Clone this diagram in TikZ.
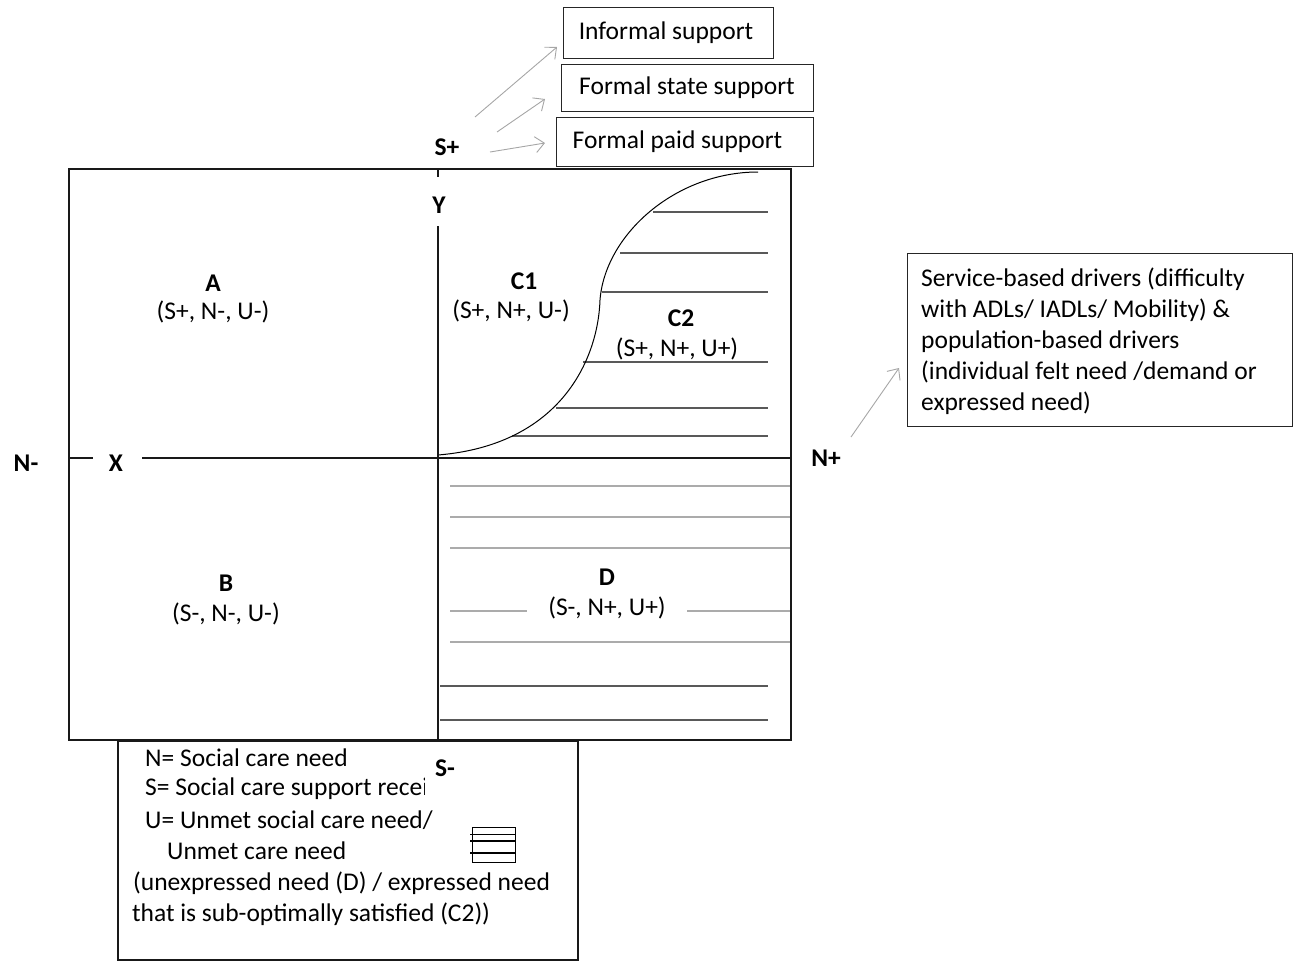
\documentclass[tikz,border=0pt]{standalone}
\usepackage{fontspec}
\setmainfont{Carlito}
\usetikzlibrary{arrows.meta}
\begin{document}
\begin{tikzpicture}[x=1pt,y=-1pt,
  every node/.style={font=\fontsize{25.5}{31}\selectfont, inner sep=0pt},
  lbl/.style={font=\fontsize{25.5}{31}\selectfont\bfseries},
  tbox/.style={draw=black!85, line width=1pt},
  garrow/.style={draw=black!35, line width=0.9pt, -{Straight Barb[length=9pt,width=16pt]}},
  hdark/.style={draw=black!65, line width=1.3pt},
  hlight/.style={draw=black!33, line width=2pt},
  frame/.style={draw=black!90, line width=2pt},
  axis/.style={draw=black!90, line width=1.8pt},
]
\useasboundingbox (0,0) rectangle (1298,962);

% hatch lines C2
\draw[hdark] (653,212) -- (768,212);
\draw[hdark] (620,253) -- (768,253);
\draw[hdark] (602,292) -- (768,292);
\draw[hdark] (583,362) -- (768,362);
\draw[hdark] (556,408) -- (768,408);
\draw[hdark] (512,436) -- (768,436);

% hatch lines D
\draw[hlight] (450,486) -- (791,486);
\draw[hlight] (450,517) -- (791,517);
\draw[hlight] (450,548) -- (791,548);
\draw[hlight] (450,611) -- (527,611);
\draw[hlight] (687,611) -- (791,611);
\draw[hlight] (450,642) -- (791,642);
\draw[hdark] (440,686) -- (768,686);
\draw[hdark] (440,720) -- (768,720);

% curve
\draw[black, line width=1pt] (438,455) .. controls (560,445) and (598,360) .. (600,300)
  .. controls (605,235) and (675,172) .. (758,172);

% frame
\draw[frame] (69,169) rectangle (791,740);

% axes
\draw[axis] (438,169) -- (438,177);
\draw[axis] (438,226) -- (438,740);
\draw[axis] (69,458) -- (93,458);
\draw[axis] (142,458) -- (791,458);

% axis labels
\node[lbl] (splus) at (447,147) {S+};
\node[lbl] (ylab) at (439,205) {Y};
\node[lbl] (nminus) at (26,463) {N-};
\node[lbl] (xlab) at (116,463) {X};
\node[lbl] (nplus) at (826,458) {N+};

% quadrant labels
\node[lbl] (A) at (213,283) {A};
\node (Av) at (213,312) {(S+, N-, U-)};
\node[lbl] (B) at (226,583) {B};
\node (Bv) at (226,614) {(S-, N-, U-)};
\node[lbl] (C1) at (524,281) {C1};
\node (C1v) at (511,311) {(S+, N+, U-)};
\node[lbl] (C2) at (681,318) {C2};
\node (C2v) at (677,349) {(S+, N+, U+)};
\node[lbl] (D) at (607,577) {D};
\node (Dv) at (607,608) {(S-, N+, U+)};

% support boxes
\node[tbox, minimum width=210pt, minimum height=51pt] (inf) at (668,33) {\hspace*{-4pt}Informal support};
\node[tbox, minimum width=252pt, minimum height=47pt] (fstate) at (687,88) {Formal state support};
\node[tbox, minimum width=257pt, minimum height=49pt] (fpaid) at (684.5,141.5) {\hspace*{-14pt}Formal paid support};

\coordinate (s1) at (475,117);
\coordinate (s2) at (497,132);
\coordinate (s3) at (490,152);
\coordinate (e1) at (557,47);
\coordinate (e2) at (545,99);
\coordinate (e3) at (545,143);
\draw[garrow] (s1) -- (e1);
\draw[garrow] (s2) -- (e2);
\draw[garrow] (s3) -- (e3);

% drivers box
\node[tbox, minimum width=385pt, minimum height=173pt] (drv) at (1099.5,339.5) {};
\node[anchor=west, align=left] (drvtext) at (921,341)
  {Service-based drivers (difficulty\\with ADLs/ IADLs/ Mobility) \&\\population-based drivers\\(individual felt need /demand or\\expressed need)};
\coordinate (n1) at (851,437);
\coordinate (n2) at (899,368);
\draw[garrow] (n1) -- (n2);

% legend
\draw[frame, line width=1.8pt] (118,741) rectangle (578,960);
\node[anchor=west] (L1) at (145,758) {N= Social care need};
\node[anchor=west] (L2) at (145,789) {S= Social care support recei};
\node[anchor=west] (L3) at (145,820) {U= Unmet social care need/};
\node[anchor=west] (L4) at (167,851) {Unmet care need};
\node[anchor=west] (L5) at (133,883) {(unexpressed need (D) / expressed need};
\node[anchor=west] (L6) at (132,914) {that is sub-optimally satisfied (C2))};
\fill[white] (425,743) rectangle (483,800);
\node[lbl] (sminus) at (445,768) {S-};

% hatch icon
\draw[black, line width=0.8pt] (472,827) rectangle (515,862);
\draw[black, line width=0.8pt] (470,834) -- (515,834);
\draw[black, line width=1.4pt] (470,841) -- (515,841);
\draw[black, line width=1.4pt] (470,853) -- (515,853);
\end{tikzpicture}
\end{document}
